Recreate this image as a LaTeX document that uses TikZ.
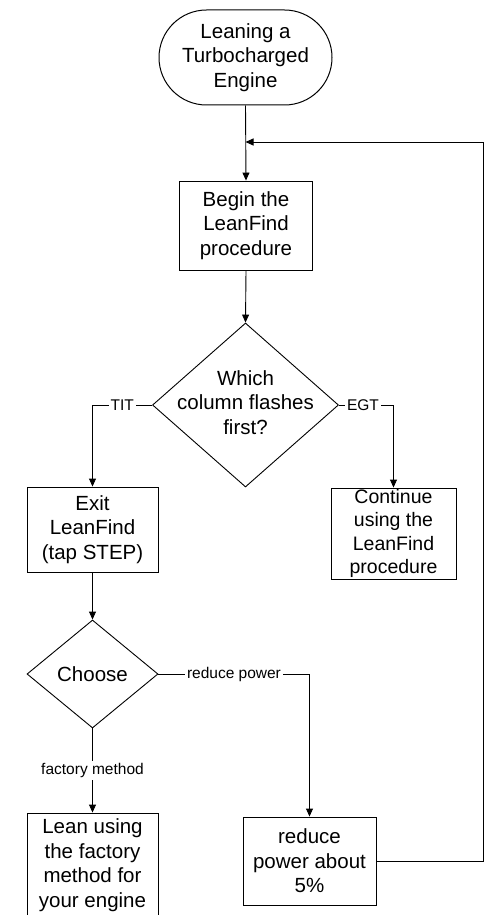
\documentclass[tikz,border=0pt]{standalone}
\usepackage{fontspec}
\setmainfont{Liberation Sans}
\usetikzlibrary{shapes.geometric,shapes.misc,arrows.meta}
\begin{document}
\begin{tikzpicture}[x=1pt,y=1pt,
  every node/.style={font=\fontsize{20.5}{24.5}\selectfont},
  term/.style={draw, line width=1pt, rounded rectangle, minimum width=173pt, minimum height=95pt, inner sep=0pt, align=center},
  stepbox/.style={draw, line width=0.9pt, rectangle, inner sep=0pt, align=center},
  decide/.style={draw, line width=0.9pt, diamond, inner sep=0pt},
  lbl/.style={fill=white, inner sep=2pt, font=\fontsize{15.5}{18}\selectfont},
  conn/.style={line width=0.9pt},
  arr/.style={conn, -{Triangle[width=7pt,length=8pt]}}
]
\useasboundingbox (0,0) rectangle (488,-915);

\node[term] (start) at (245.5,-57.5) {Leaning a\\Turbocharged\\Engine};
\node[stepbox, minimum width=133pt, minimum height=89pt] (begin) at (246,-225.5) {Begin the\\LeanFind\\procedure};
\node[decide, minimum width=186pt, minimum height=164pt,
  label={center:{\begin{tabular}{@{}c@{}}Which\\column flashes\\first?\end{tabular}}}] (d1) at (245.5,-405) {};
\node[stepbox, minimum width=131pt, minimum height=85pt] (exit) at (92.5,-529.5) {Exit\\LeanFind\\(tap STEP)};
\node[stepbox, minimum width=125pt, minimum height=91pt, font=\fontsize{19.5}{23.5}\selectfont] (cont) at (393.5,-533.5) {Continue\\using the\\LeanFind\\procedure};
\node[decide, minimum width=131pt, minimum height=108pt,
  label={center:{Choose}}] (d2) at (92.5,-674) {};
\node[stepbox, minimum width=131pt, minimum height=104pt] (lean) at (92.5,-865) {Lean using\\the factory\\method for\\your engine};
\node[stepbox, minimum width=133pt, minimum height=88pt] (reduce) at (309.5,-861) {reduce\\power about\\5\%};

\coordinate (join) at (245.5,-142);
\coordinate (fb) at (483,-142);

\draw[arr] (start.south) -- (begin.north);
\draw[arr] (begin.south) -- (d1.north);
\draw[arr] (d1.west) -| node[lbl, pos=0.25] {TIT} (exit.north);
\draw[arr] (d1.east) -| node[lbl, pos=0.22] {EGT} (cont.north);
\draw[arr] (exit.south) -- (d2.north);
\draw[arr] (d2.east) -| node[lbl, pos=0.25] {reduce power} (reduce.north);
\draw[arr] (d2.south) -- node[lbl, pos=0.5] {factory method} (lean.north);
\draw[conn] (reduce.east) -| (fb);
\draw[arr] (fb) -- (join);
\end{tikzpicture}
\end{document}
